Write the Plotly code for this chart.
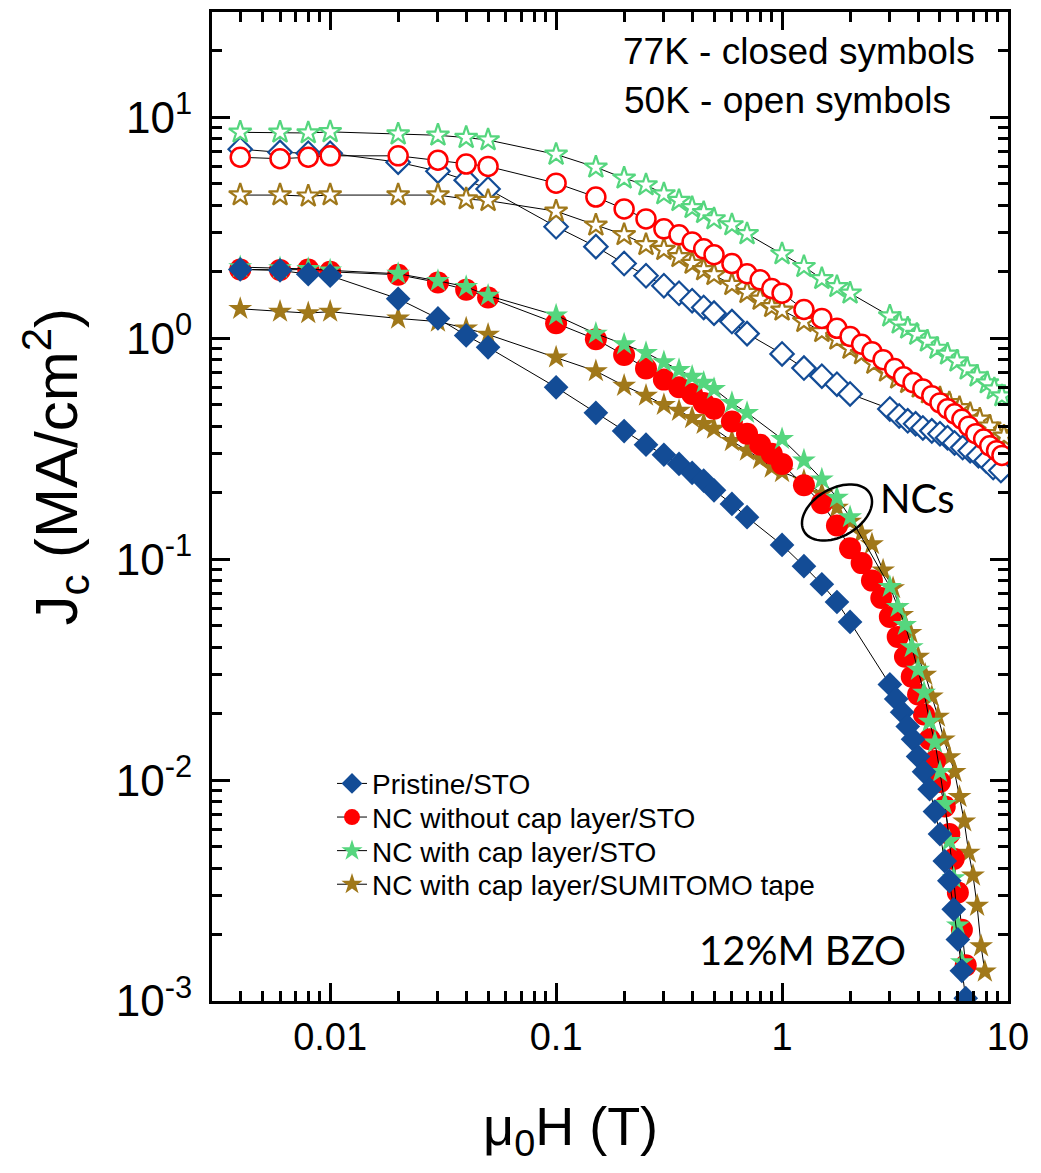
import numpy as np
import plotly.graph_objects as go

# ---------------- data: Jc (MA/cm^2) vs mu0H (T) ----------------
# 77 K (closed symbols)
x_pristine_77 = [0.004, 0.006, 0.008, 0.01, 0.02, 0.03, 0.04, 0.05, 0.1, 0.15, 0.2, 0.25, 0.3, 0.35,
                 0.4, 0.45, 0.5, 0.6, 0.7, 1.0, 1.25, 1.5, 1.75, 2.0, 3.0, 3.2, 3.4, 3.6, 3.8, 4.0,
                 4.25, 4.5, 4.75, 5.0, 5.25, 5.5, 5.75, 6.0, 6.25, 6.5]
y_pristine_77 = [2.05, 2.03, 1.95, 1.92, 1.51, 1.23, 1.03, 0.91, 0.60, 0.46, 0.38, 0.33, 0.297, 0.27,
                 0.246, 0.227, 0.205, 0.178, 0.155, 0.116, 0.093, 0.077, 0.064, 0.052, 0.0271, 0.0233,
                 0.0203, 0.0175, 0.0153, 0.0128, 0.0109, 0.0091, 0.0072, 0.0057, 0.0043, 0.0035,
                 0.0026, 0.0019, 0.00137, 0.00103]

x_nocap_77 = [0.004, 0.006, 0.008, 0.01, 0.02, 0.03, 0.04, 0.05, 0.1, 0.15, 0.2, 0.25, 0.3, 0.35,
              0.4, 0.45, 0.5, 0.6, 0.7, 0.8, 0.9, 1.0, 1.25, 1.5, 1.75, 2.0, 2.25, 2.5, 2.75, 3.0,
              3.25, 3.5, 3.75, 4.0, 4.25, 4.5, 4.75, 5.0, 5.25, 5.5, 5.75, 6.0, 6.25, 6.5]
y_nocap_77 = [2.05, 2.04, 2.05, 2.0, 1.94, 1.79, 1.66, 1.53, 1.17, 0.99, 0.84, 0.73, 0.65, 0.60,
              0.56, 0.51, 0.48, 0.42, 0.37, 0.33, 0.30, 0.27, 0.216, 0.179, 0.142, 0.112, 0.096,
              0.080, 0.0667, 0.0548, 0.0445, 0.0362, 0.0294, 0.0244, 0.0198, 0.0153, 0.0122,
              0.0098, 0.0076, 0.0057, 0.0044, 0.0031, 0.0021, 0.00145]

x_cap_sto_77 = [0.004, 0.006, 0.008, 0.01, 0.02, 0.03, 0.04, 0.05, 0.1, 0.15, 0.2, 0.25, 0.3, 0.35,
                0.4, 0.45, 0.5, 0.6, 0.7, 1.0, 1.25, 1.5, 1.75, 2.0, 3.0, 3.25, 3.5, 3.75, 4.0,
                4.25, 4.5, 4.75, 5.0, 5.25, 5.5, 5.75, 6.0, 6.25]
y_cap_sto_77 = [2.1, 2.08, 2.06, 2.03, 1.96, 1.82, 1.71, 1.56, 1.27, 1.05, 0.94, 0.86, 0.78, 0.72,
                0.67, 0.63, 0.59, 0.51, 0.46, 0.35, 0.28, 0.23, 0.19, 0.155, 0.075, 0.0608, 0.0504,
                0.040, 0.0316, 0.0249, 0.0184, 0.0148, 0.0109, 0.0078, 0.0053, 0.0036, 0.0022, 0.0015]

x_cap_sumi_77 = [0.004, 0.006, 0.008, 0.01, 0.02, 0.03, 0.04, 0.05, 0.1, 0.15, 0.2, 0.25, 0.3, 0.35,
                 0.4, 0.45, 0.5, 0.6, 0.7, 0.8, 0.9, 1.0, 1.25, 1.5, 1.75, 2.0, 2.25, 2.5, 2.8, 3.1,
                 3.4, 3.7, 4.0, 4.3, 4.6, 4.9, 5.2, 5.5, 5.8, 6.1, 6.4, 6.7, 7.0, 7.3, 7.6, 7.9]
y_cap_sumi_77 = [1.36, 1.32, 1.30, 1.32, 1.23, 1.19, 1.11, 1.04, 0.82, 0.71, 0.61, 0.55, 0.50, 0.47,
                 0.436, 0.41, 0.39, 0.343, 0.31, 0.285, 0.26, 0.248, 0.227, 0.198, 0.171, 0.148,
                 0.131, 0.117, 0.089, 0.074, 0.056, 0.0464, 0.0362, 0.030, 0.0239, 0.0194, 0.0153,
                 0.0127, 0.0109, 0.0084, 0.0065, 0.0047, 0.0037, 0.0027, 0.00177, 0.00136]

# 50 K (open symbols)
x_pristine_50 = [0.004, 0.006, 0.008, 0.01, 0.02, 0.03, 0.04, 0.05, 0.1, 0.15, 0.2, 0.25, 0.3, 0.35,
                 0.4, 0.45, 0.5, 0.6, 0.7, 1.0, 1.25, 1.5, 1.75, 2.0, 3.0, 3.3, 3.6, 3.9, 4.2, 4.6,
                 5.0, 5.4, 5.8, 6.3, 6.8, 7.4, 8.0, 8.6, 9.3]
y_pristine_50 = [7.18, 6.95, 6.88, 6.88, 6.27, 5.71, 5.2, 4.74, 3.2, 2.6, 2.18, 1.92, 1.73, 1.6,
                 1.48, 1.38, 1.30, 1.19, 1.05, 0.85, 0.733, 0.674, 0.62, 0.56, 0.479, 0.445, 0.423,
                 0.41, 0.393, 0.381, 0.37, 0.355, 0.336, 0.32, 0.31, 0.294, 0.279, 0.26, 0.252]

x_nocap_50 = [0.004, 0.006, 0.008, 0.01, 0.02, 0.03, 0.04, 0.05, 0.1, 0.15, 0.2, 0.25, 0.3, 0.35,
              0.4, 0.45, 0.5, 0.6, 0.7, 0.8, 0.9, 1.0, 1.25, 1.5, 1.75, 2.0, 2.25, 2.5, 2.8, 3.15,
              3.45, 3.8, 4.2, 4.6, 5.0, 5.4, 5.8, 6.25, 6.7, 7.2, 7.8, 8.3, 8.9, 9.4]
y_nocap_50 = [6.6, 6.5, 6.6, 6.7, 6.7, 6.4, 6.15, 6.0, 5.04, 4.36, 3.85, 3.47, 3.13, 2.94,
              2.73, 2.54, 2.39, 2.18, 1.96, 1.84, 1.68, 1.6, 1.35, 1.23, 1.11, 1.02, 0.94, 0.87,
              0.80, 0.73, 0.67, 0.63, 0.59, 0.55, 0.51, 0.48, 0.455, 0.43, 0.40, 0.37, 0.35,
              0.326, 0.31, 0.295]

x_cap_sto_50 = [0.004, 0.006, 0.008, 0.01, 0.02, 0.03, 0.04, 0.05, 0.1, 0.15, 0.2, 0.25, 0.3, 0.35,
                0.4, 0.45, 0.5, 0.6, 0.7, 1.0, 1.25, 1.5, 1.75, 2.0, 3.0, 3.3, 3.6, 3.95, 4.4, 4.85,
                5.4, 5.95, 6.6, 7.3, 8.1, 8.7, 9.4]
y_cap_sto_50 = [8.56, 8.56, 8.5, 8.6, 8.4, 8.3, 8.1, 7.9, 6.8, 5.95, 5.3, 4.94, 4.5, 4.2,
                3.9, 3.7, 3.47, 3.26, 2.97, 2.41, 2.11, 1.86, 1.71, 1.6, 1.26, 1.17, 1.11, 1.04,
                0.97, 0.90, 0.847, 0.788, 0.725, 0.674, 0.627, 0.589, 0.548]

x_cap_sumi_50 = [0.004, 0.006, 0.008, 0.01, 0.02, 0.03, 0.04, 0.05, 0.1, 0.15, 0.2, 0.25, 0.3, 0.35,
                 0.4, 0.45, 0.5, 0.6, 0.7, 0.8, 0.9, 1.0, 1.25, 1.5, 1.75, 2.0, 2.25, 2.55, 2.9,
                 3.25, 3.6, 4.05, 4.45, 5.0, 5.5, 6.1, 6.8, 7.5, 8.3, 9.0, 9.6]
y_cap_sumi_50 = [4.45, 4.45, 4.4, 4.45, 4.45, 4.45, 4.27, 4.2, 3.76, 3.25, 2.94, 2.65, 2.52, 2.34,
                 2.18, 2.04, 1.94, 1.75, 1.61, 1.5, 1.39, 1.34, 1.19, 1.07, 0.99, 0.90, 0.85, 0.77,
                 0.71, 0.66, 0.63, 0.60, 0.565, 0.537, 0.51, 0.485, 0.455, 0.43, 0.40, 0.37, 0.36]

series_names = ["Pristine/STO", "NC without cap layer/STO", "NC with cap layer/STO",
                "NC with cap layer/SUMITOMO tape"]

x_tickvals = [0.01, 0.1, 1, 10]
x_ticktext = ["0.01", "0.1", "1", "10"]
y_tickvals = [1e-3, 1e-2, 1e-1, 1, 10]
y_ticktext = ["10<sup>-3</sup>", "10<sup>-2</sup>", "10<sup>-1</sup>", "10<sup>0</sup>", "10<sup>1</sup>"]

# minor ticks at 2..9 of every decade
x_minor = [k * 10.0 ** d for d in range(-3, 1) for k in range(2, 10) if 0.003 <= k * 10.0 ** d <= 10]
y_minor = [k * 10.0 ** d for d in range(-3, 2) for k in range(2, 10) if k * 10.0 ** d <= 30]

# ---------------- styling ----------------
BLUE = "#134C96"
RED = "#FF0000"
GREEN = "#55D67E"
GOLD = "#A0781A"
FONT = "Liberation Sans"

W, H = 1041, 1173
L, R, T, B = 212, 33, 9, 172
PW, PH = W - L - R, H - T - B


def px_to_paper(px, py):
    return (px - L) / PW, (H - B - py) / PH


fig = go.Figure()

closed_style = {
    "Pristine/STO": dict(symbol="diamond", size=19, color=BLUE),
    "NC without cap layer/STO": dict(symbol="circle", size=22, color=RED),
    "NC with cap layer/STO": dict(symbol="star", size=18, color=GREEN),
    "NC with cap layer/SUMITOMO tape": dict(symbol="star", size=18, color=GOLD),
}
open_style = {
    "Pristine/STO": dict(symbol="diamond", size=18, color="white", line=dict(color=BLUE, width=2.2)),
    "NC without cap layer/STO": dict(symbol="circle", size=19, color="white", line=dict(color=RED, width=2.5)),
    "NC with cap layer/STO": dict(symbol="star", size=17, color="white", line=dict(color=GREEN, width=2.2)),
    "NC with cap layer/SUMITOMO tape": dict(symbol="star", size=17, color="white", line=dict(color=GOLD, width=2.2)),
}

line_style = dict(color="black", width=1)

# 50 K, open symbols
open_sets = [
    ("Pristine/STO", x_pristine_50, y_pristine_50),
    ("NC with cap layer/SUMITOMO tape", x_cap_sumi_50, y_cap_sumi_50),
    ("NC without cap layer/STO", x_nocap_50, y_nocap_50),
    ("NC with cap layer/STO", x_cap_sto_50, y_cap_sto_50),
]
for name, xs, ys in open_sets:
    fig.add_trace(go.Scatter(x=xs, y=ys, mode="lines+markers", name=name + " (50K)",
                             line=line_style, marker=open_style[name], showlegend=False))

# 77 K, closed symbols; each legend row is its own legend box so rows can be spaced freely
legend_ids = ["legend", "legend2", "legend3", "legend4"]
closed_sets = [
    ("NC with cap layer/SUMITOMO tape", x_cap_sumi_77, y_cap_sumi_77),
    ("NC without cap layer/STO", x_nocap_77, y_nocap_77),
    ("NC with cap layer/STO", x_cap_sto_77, y_cap_sto_77),
    ("Pristine/STO", x_pristine_77, y_pristine_77),
]
for name, xs, ys in closed_sets:
    fig.add_trace(go.Scatter(x=xs, y=ys, mode="lines+markers", name=name,
                             line=line_style, marker=closed_style[name],
                             legend=legend_ids[series_names.index(name)]))

axis_common = dict(
    type="log", showline=True, linecolor="black", linewidth=3, mirror="allticks",
    ticks="inside", ticklen=18, tickwidth=3, tickcolor="black",
    showgrid=False, zeroline=False,
)
minor_common = dict(ticks="inside", ticklen=10, tickwidth=2.5, tickcolor="black",
                    showgrid=False, tickmode="array")

fig.update_xaxes(range=[np.log10(0.003), 1], tickmode="array", tickvals=x_tickvals,
                 ticktext=x_ticktext, tickfont=dict(family=FONT, size=38, color="black"),
                 minor=dict(tickvals=x_minor, **minor_common), **axis_common)
fig.update_yaxes(range=[-3, np.log10(30)], tickmode="array", tickvals=y_tickvals,
                 ticktext=y_ticktext, tickfont=dict(family=FONT, size=44, color="black"),
                 ticklabelstandoff=8,
                 minor=dict(tickvals=y_minor, **minor_common), **axis_common)

# ellipse around the NC curves
cx, cy, a, b, th = 837, 511, 38, 24, np.deg2rad(30)
t = np.linspace(0, 2 * np.pi, 73)
ex = cx + a * np.cos(t) * np.cos(th) + b * np.sin(t) * np.sin(th)
ey = cy - a * np.cos(t) * np.sin(th) + b * np.sin(t) * np.cos(th)
pts = [px_to_paper(u, v) for u, v in zip(ex, ey)]
path = "M " + " L ".join(f"{u:.5f},{v:.5f}" for u, v in pts) + " Z"
fig.add_shape(type="path", path=path, xref="paper", yref="paper",
              line=dict(color="black", width=2.5))

annos = [
    ("77K - closed symbols", 621, 49, dict(family=FONT, size=37)),
    ("50K - open symbols", 622, 98, dict(family=FONT, size=37)),
    ("NCs", 878, 496, dict(family="Lato", size=40)),
    ("12%M BZO", 697, 950, dict(family="Lato", size=40)),
]
for text, px, py, fnt in annos:
    ax_, ay_ = px_to_paper(px, py)
    fig.add_annotation(text=text, x=ax_, y=ay_, xref="paper", yref="paper",
                       xanchor="left", yanchor="middle", showarrow=False,
                       font=dict(color="black", **fnt))

# axis titles
tx, ty = px_to_paper(570, 1130)
fig.add_annotation(text="\u03bc<sub>0</sub>H (T)", x=tx, y=ty, xref="paper", yref="paper",
                   xanchor="center", yanchor="middle", showarrow=False,
                   font=dict(family=FONT, size=54, color="black"))
tx, ty = px_to_paper(56, 465)
fig.add_annotation(text="J<sub>c</sub> (MA/cm<sup>2</sup>)", x=tx, y=ty, xref="paper",
                   yref="paper", textangle=-90, xanchor="center", yanchor="middle",
                   showarrow=False, font=dict(family=FONT, size=60, color="black"))

legend_layout = {}
for i, lid in enumerate(legend_ids):
    lx, ly = px_to_paper(332, 758 + 33.7 * i)
    legend_layout[lid] = dict(x=lx, y=ly, xanchor="left", yanchor="top",
                              bgcolor="rgba(0,0,0,0)",
                              font=dict(family=FONT, size=28, color="black"))

fig.update_layout(
    width=W, height=H,
    margin=dict(l=L, r=R, t=T, b=B, pad=0),
    paper_bgcolor="white", plot_bgcolor="white",
    showlegend=True,
    **legend_layout,
)

fig.write_html("out.html")
